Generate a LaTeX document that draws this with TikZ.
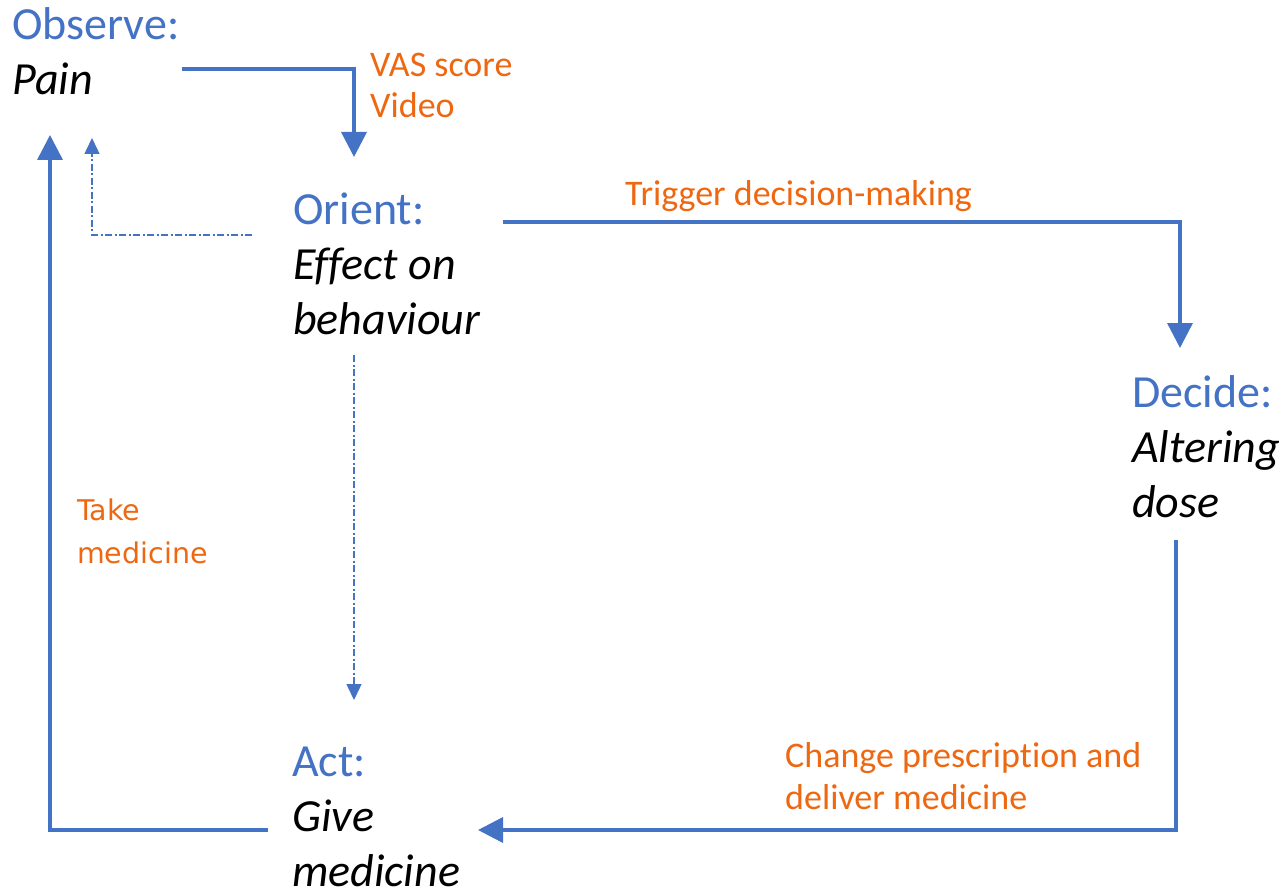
\documentclass[tikz,border=0pt]{standalone}
\usepackage{fontspec}
\setmainfont[RawFeature={-liga;-calt;-clig;-dlig}]{Carlito}
\newfontfamily\takefont{DejaVu Sans}
\usetikzlibrary{arrows.meta}
\definecolor{oodablue}{HTML}{4472C4}
\definecolor{oodaorange}{RGB}{238,104,18}
\newcommand{\twoln}[3]{\vtop{\baselineskip=#1\lineskiplimit=-100pt\hbox{#2}\hbox{#3}}}
\newcommand{\stagetext}[2]{\twoln{55pt}{\color{oodablue}#1}{\itshape #2}}
\newcommand{\stagetextt}[3]{\vtop{\baselineskip=55pt\lineskiplimit=-100pt\hbox{\color{oodablue}#1}\hbox{\itshape #2}\hbox{\itshape #3}}}
\begin{document}
\begin{tikzpicture}[x=1pt,y=-1pt,
  stage/.style={inner sep=0pt,anchor=base west,font=\fontsize{46}{55}\selectfont},
  lbl/.style={inner sep=0pt,anchor=base west,text=oodaorange,font=\fontsize{36}{42}\selectfont},
  mainflow/.style={draw=oodablue,line width=3.5pt,-{Triangle[width=25pt,length=25pt]}},
  sideflow/.style={draw=oodablue,line width=1.5pt,dash pattern=on 7pt off 2.5pt on 2pt off 2.5pt,-{Triangle[width=15pt,length=16pt]}}]
\useasboundingbox[fill=white] (0,0) rectangle (1286,896);
% stages
\node[stage] (obs) at (12,40) {\stagetext{Observe:}{Pain}};
\node[stage] (ori) at (293,225) {\stagetextt{Orient:}{Effect on}{behaviour}};
\node[stage] (dec) at (1132,407) {\stagetextt{Decide:}{Altering}{dose}};
\node[stage] (act) at (292,776) {\stagetextt{Act:}{Give}{medicine}};
% labels
\node[lbl] (vas) at (370,77) {\twoln{41pt}{VAS score}{Video}};
\node[lbl] (trig) at (625,206) {Trigger decision-making};
\node[lbl] (chg) at (785,767) {\twoln{42pt}{Change prescription and}{deliver medicine}};
\node[lbl,font=\takefont\fontsize{28.5}{43}\selectfont] (take) at (77,520) {\twoln{43pt}{Take}{medicine}};
% connectors
\draw[mainflow] ([shift={(2,29)}]obs.base east) -| ([shift={(61,-68)}]ori.base west);
\draw[mainflow] ([shift={(210,-3)}]ori.base west) -| ([shift={(48,-59)}]dec.base west);
\draw[mainflow] ([shift={(44,133)}]dec.base west) |- ([shift={(186,54)}]act.base west);
\draw[mainflow] ([shift={(-24,54)}]act.base west) -| ([shift={(38,95)}]obs.base west);
\draw[sideflow] ([shift={(-41,10)}]ori.base west) -| ([shift={(80,98)}]obs.base west);
\draw[sideflow] ([shift={(61,130)}]ori.base west) -- ([shift={(62,-76)}]act.base west);
\end{tikzpicture}
\end{document}
